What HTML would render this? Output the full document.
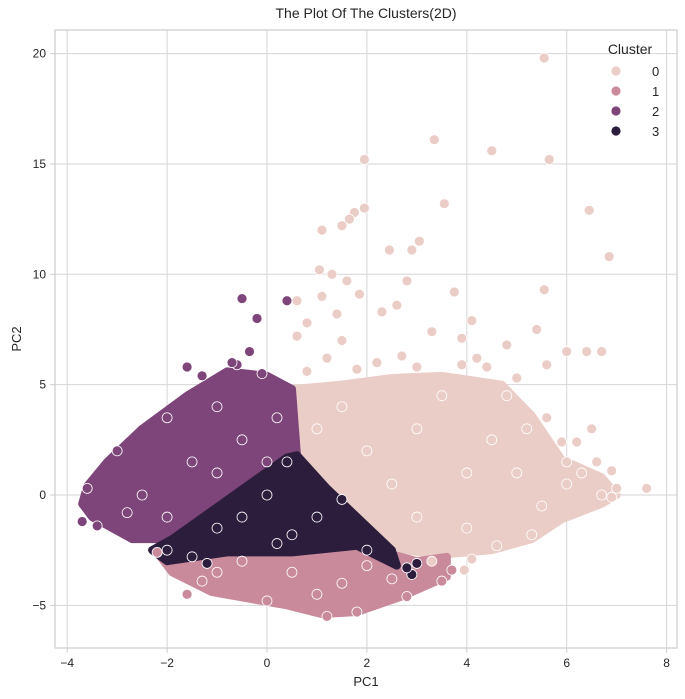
<!DOCTYPE html>
<html><head><meta charset="utf-8"><style>
html,body{margin:0;padding:0;background:#fff;}
svg{display:block;font-family:"Liberation Sans",sans-serif;}
</style></head><body>
<svg id="chart" width="685" height="699" viewBox="0 0 685 699"></svg>
<script>
const xTicks=[-4,-2,0,2,4,6,8];
const yTicks=[-5,0,5,10,15,20];
const clusterIds=[0,1,2,3];
const clusterColors=['#ebcdc7','#c98a9c','#7d4579','#2c1d3d'];
// dense region hulls (data units)
const hull0=[[0.5,4.8],[1.5,5.0],[2.5,5.3],[3.5,5.4],[4.7,5.0],[5.3,3.6],[5.9,1.6],[6.7,0.8],[7.0,0],[6.7,-0.4],[5.9,-1.1],[5.3,-2],[4.5,-2.5],[3.5,-2.7],[2.7,-2.5],[0.5,1.7]];
const hull2=[[-3.6,0.4],[-3.2,1.5],[-2.5,3.0],[-1.6,4.5],[-0.8,5.6],[0,5.4],[0.5,4.8],[0.6,1.8],[0.4,1.7],[-1.9,-2.0],[-2.7,-2.0],[-3.5,-1.0],[-3.7,-0.4]];
const hull1=[[-2.2,-2.6],[-1.0,-2.5],[0,-2.2],[1.2,-2.2],[2.2,-2.5],[3.0,-3.0],[3.6,-2.8],[3.6,-3.7],[2.7,-4.6],[1.8,-5.3],[1.1,-5.4],[0.4,-5.0],[-1.1,-4.4],[-1.9,-3.5]];
const hull3=[[0.4,1.7],[0.6,1.8],[1.2,0.3],[2.5,-2.5],[2.6,-3.2],[1.8,-2.3],[0.5,-2.6],[-0.8,-2.6],[-2.0,-3.0],[-2.3,-2.5],[-1.9,-2.0]];
const pts0=[[5.55,19.8],[3.35,16.1],[4.5,15.6],[5.65,15.2],[1.95,15.2],[3.55,13.2],[6.45,12.9],[1.95,13.0],[1.75,12.8],[1.65,12.5],[1.5,12.2],[6.85,10.8],[1.1,12.0],[3.05,11.5],[2.45,11.1],[2.9,11.1],[1.05,10.2],[1.3,10.0],[1.6,9.7],[2.8,9.7],[3.75,9.2],[5.55,9.3],[1.85,9.1],[0.6,8.8],[1.1,9.0],[4.1,7.9],[5.4,7.5],[2.6,8.6],[2.3,8.3],[1.4,8.2],[0.8,7.8],[3.3,7.4],[4.8,6.8],[6.0,6.5],[6.4,6.5],[6.7,6.5],[5.6,5.9],[0.6,7.2],[1.5,7.0],[3.9,7.1],[7.0,0.3],[7.6,0.3],[6.7,0.0],[6.9,-0.1],[6.6,1.5],[6.9,1.1],[6.2,2.4],[6.5,3.0],[5.6,3.5],[3.95,-3.4],[5.3,-1.8],[4.6,-2.3],[5.5,-0.5],[6,0.5],[3.0,5.8],[2.2,6.0],[1.2,6.2],[4.4,5.8],[4.8,4.5],[5.2,3.0],[3,3],[4,1],[2,2],[3,-1],[5,1],[1.5,4],[2.5,0.5],[4,-1.5],[3.5,4.5],[1,3],[6,1.5],[4.5,2.5],[0.8,5.6],[1.8,5.7],[2.7,6.3],[3.9,5.9],[4.2,6.2],[5.0,5.3],[5.9,2.4],[6.3,1.0],[4.1,-2.9],[3.3,-3.0]];
const pts1=[[-1.6,-4.5],[-1.3,-3.9],[-2.2,-2.6],[-1.0,-3.5],[1.8,-5.3],[1.2,-5.5],[2.8,-4.6],[3.7,-3.4],[3.5,-3.9],[0,-4.8],[0.5,-3.5],[1.5,-4],[2.5,-3.8],[-0.5,-3],[1,-4.5],[2,-3.2]];
const pts2=[[-0.5,8.9],[-0.2,8.0],[0.4,8.8],[-0.35,6.5],[-1.6,5.8],[-0.6,5.9],[-0.7,6.0],[-1.3,5.4],[-0.1,5.5],[-3.6,0.3],[-3.7,-1.2],[-3.4,-1.4],[-3,2],[-2,3.5],[-1,4],[-2.5,0],[-1.5,1.5],[-0.5,2.5],[0.2,3.5],[-2.8,-0.8],[-1,1],[0,1.5],[-2,-1]];
const pts3=[[-1.5,-2.8],[-1.2,-3.1],[-2.0,-2.5],[3.0,-3.1],[2.9,-3.6],[2.8,-3.3],[0.4,1.5],[0,0],[1,-1],[-1,-1.5],[2,-2.5],[0.5,-1.8],[1.5,-0.2],[-0.5,-1],[0.2,-2.2]];

const NS='http://www.w3.org/2000/svg';
const svg=document.getElementById('chart');
const L=55,R=677,T=30,B=648;
const xs=v=>267+v*49.95;
const ys=v=>495-v*22.07;
function mk(tag,attrs){const e=document.createElementNS(NS,tag);for(const k in attrs)e.setAttribute(k,attrs[k]);svg.appendChild(e);return e;}

const bg=mk('rect',{x:L,y:T,width:R-L,height:B-T,fill:'#fff'});


xTicks.forEach(t=>{
  const g=mk('line',{x1:xs(t),x2:xs(t),y1:T,y2:B,stroke:'#d6d6d6','stroke-width':1});
  
  
  mk('line',{x1:xs(t),x2:xs(t),y1:B,y2:B+5,stroke:'#ccc'});
  const tx=mk('text',{x:xs(t),y:B+19,'text-anchor':'middle','font-size':12,fill:'#262626'});
  tx.textContent=String(t).replace('-','−');
  
  
});
yTicks.forEach(t=>{
  const g=mk('line',{x1:L,x2:R,y1:ys(t),y2:ys(t),stroke:'#d6d6d6','stroke-width':1});
  
  
  mk('line',{x1:L-5,x2:L,y1:ys(t),y2:ys(t),stroke:'#ccc'});
  const tx=mk('text',{x:L-9,y:ys(t)+4,'text-anchor':'end','font-size':12,fill:'#262626'});
  tx.textContent=String(t).replace('-','−');
  
  
});
const hulls=[[hull0,0],[hull2,2],[hull1,1],[hull3,3]];
hulls.forEach(([h,c])=>{
  const p=mk('polygon',{points:h.map(q=>xs(q[0])+','+ys(q[1])).join(' '),fill:clusterColors[c],stroke:clusterColors[c],'stroke-width':8,'stroke-linejoin':'round'});
  
  
});
[[pts0,0],[pts2,2],[pts1,1],[pts3,3]].forEach(([ps,c])=>{
  ps.forEach(q=>{
    const d=mk('circle',{cx:xs(q[0]),cy:ys(q[1]),r:5,fill:clusterColors[c],stroke:'#fff','stroke-width':0.8});
    
    
  });
});
const fr=mk('rect',{x:L,y:T,width:R-L,height:B-T,fill:'none',stroke:'#cccccc','stroke-width':1.2});


const title=mk('text',{x:366,y:18,'text-anchor':'middle','font-size':14,fill:'#262626'});
title.textContent='The Plot Of The Clusters(2D)';


const xl=mk('text',{x:366,y:686,'text-anchor':'middle','font-size':13,fill:'#262626'});
xl.textContent='PC1';


const yl=mk('text',{x:21,y:339,'text-anchor':'middle','font-size':13,fill:'#262626',transform:'rotate(-90 21 339)'});
yl.textContent='PC2';


const lt=mk('text',{x:630,y:54,'text-anchor':'middle','font-size':14,fill:'#262626'});
lt.textContent='Cluster';


clusterIds.forEach((c,i)=>{
  const y=71+i*20;
  const m=mk('circle',{cx:616,cy:y,r:5,fill:clusterColors[c],stroke:'#fff','stroke-width':0.8});
  
  
  const t=mk('text',{x:652,y:y+5,'font-size':13,fill:'#262626'});
  t.textContent=String(c);
  
  
});
</script>
</body></html>
